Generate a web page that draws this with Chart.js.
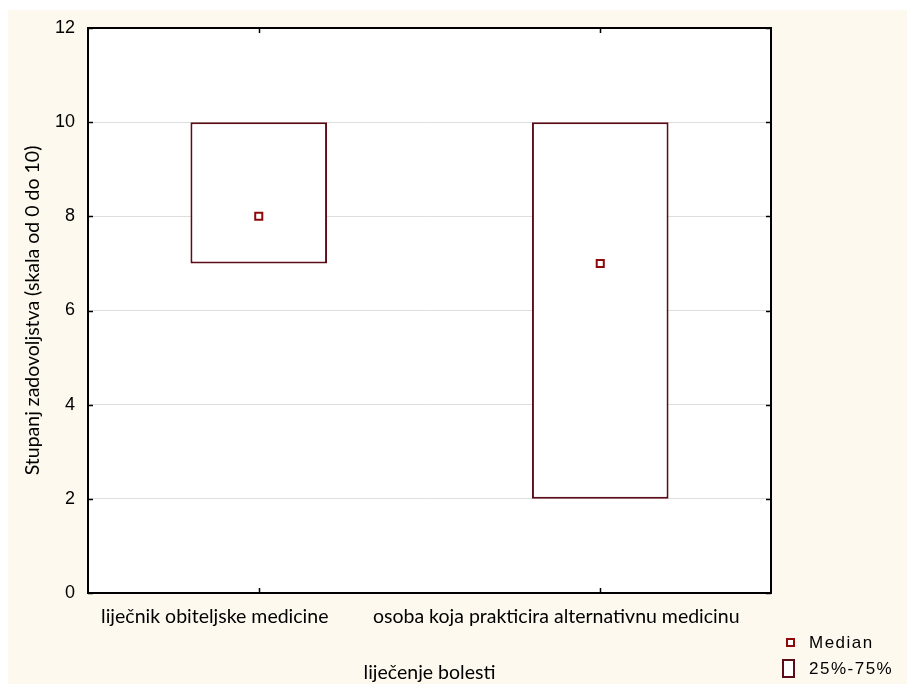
<!DOCTYPE html>
<html lang="hr">
  <head>
    <meta charset="utf-8" />
    <title>Stupanj zadovoljstva</title>
    <script src="https://cdn.jsdelivr.net/npm/chart.js@4.4.0/dist/chart.umd.min.js"></script>
  </head>
  <body>
    <div class="frame">
      <canvas id="chart" width="899" height="674"></canvas>
    </div>
  </body>

  <style>
    body{
      margin: 0;
      background: #ffffff;
    }
    .frame{
      position: absolute;
      left: 8px;
      top: 10px;
      width: 899px;
      height: 674px;
      background: #fdf9ee;
    }
  </style>

  <script>
    // data
    const categories = ["liječnik obiteljske medicine", "osoba koja prakticira alternativnu medicinu"];
    const q25 = [7, 2];
    const q75 = [10, 10];
    const medians = [8, 7];
    const yTicks = [0, 2, 4, 6, 8, 10, 12];

    const BOX_COLOR = "#5c0c16";
    const MEDIAN_COLOR = "#8e0a0a";
    const LABEL_FONT = "Lato";
    const NUM_FONT = "'Liberation Sans'";

    // white plot area
    const bgPlugin = {
      id: "plotBg",
      beforeDraw(chart) {
        const a = chart.chartArea;
        chart.ctx.save();
        chart.ctx.fillStyle = "#fff";
        chart.ctx.fillRect(a.left, a.top, a.right - a.left, a.bottom - a.top);
        chart.ctx.restore();
      }
    };

    // frame, inward tick marks and the legend
    const framePlugin = {
      id: "frame",
      afterDatasetsDraw(chart) {
        const ctx = chart.ctx;
        const a = chart.chartArea;
        const y = chart.scales.y;
        const x = chart.scales.x;
        ctx.save();
        ctx.strokeStyle = "#000";
        ctx.lineWidth = 2;
        ctx.strokeRect(a.left, a.top, a.right - a.left, a.bottom - a.top);
        ctx.lineWidth = 1.5;
        ctx.beginPath();
        yTicks.forEach(v => {
          const py = Math.round(y.getPixelForValue(v)) + 0.5;
          ctx.moveTo(a.left, py); ctx.lineTo(a.left + 5, py);
          ctx.moveTo(a.right, py); ctx.lineTo(a.right - 5, py);
        });
        categories.forEach((c, i) => {
          const px = Math.round(x.getPixelForValue(i)) + 0.5;
          ctx.moveTo(px, a.bottom); ctx.lineTo(px, a.bottom - 5);
          ctx.moveTo(px, a.top); ctx.lineTo(px, a.top + 5);
        });
        ctx.stroke();

        // legend
        ctx.lineWidth = 2;
        ctx.strokeStyle = MEDIAN_COLOR;
        ctx.fillStyle = "#fff";
        ctx.fillRect(779, 629, 7, 7);
        ctx.strokeRect(779, 629, 7, 7);
        ctx.strokeStyle = BOX_COLOR;
        ctx.fillRect(775, 650, 11, 17);
        ctx.strokeRect(775, 650, 11, 17);
        ctx.fillStyle = "#000";
        ctx.font = "17px " + NUM_FONT;
        ctx.letterSpacing = "1.5px";
        ctx.textBaseline = "middle";
        ctx.fillText("Median", 801, 633);
        ctx.fillText("25%-75%", 801, 659);
        ctx.restore();
      }
    };

    new Chart(document.getElementById("chart"), {
      data: {
        labels: categories,
        datasets: [
          {
            type: "line",
            label: "Median",
            data: medians,
            showLine: false,
            pointStyle: "rect",
            pointRadius: 5,
            pointBorderWidth: 2,
            pointBorderColor: MEDIAN_COLOR,
            pointBackgroundColor: "#fff",
            order: 0
          },
          {
            type: "bar",
            label: "25%-75%",
            data: q25.map((v, i) => [v, q75[i]]),
            backgroundColor: "#fff",
            borderColor: BOX_COLOR,
            borderWidth: 2,
            borderSkipped: false,
            categoryPercentage: 1,
            barPercentage: 0.4,
            order: 1
          }
        ]
      },
      options: {
        responsive: false,
        animation: false,
        devicePixelRatio: 1,
        layout: { padding: { left: 0, top: 18, right: 136, bottom: 0 } },
        plugins: {
          legend: { display: false },
          tooltip: { enabled: false }
        },
        scales: {
          x: {
            grid: { display: false, drawTicks: false },
            border: { display: false },
            ticks: { color: "#000", padding: 12, autoSkip: false, labelOffset: -44, font: { family: LABEL_FONT, size: 19.5 }, maxRotation: 0 },
            title: { display: true, text: "liječenje bolesti", color: "#000", font: { family: LABEL_FONT, size: 19.5 }, padding: { top: 5, bottom: 0 } },
            afterFit: s => { s.height = 91; s.paddingLeft = 0; s.paddingRight = 0; }
          },
          y: {
            min: 0,
            max: 12,
            afterBuildTicks: s => { s.ticks = yTicks.map(v => ({ value: v })); },
            grid: {
              drawTicks: false,
              color: c => (c.tick.value === 0 || c.tick.value === 12) ? "rgba(0,0,0,0)" : "#dedede",
              lineWidth: 1
            },
            border: { display: false },
            ticks: { color: "#000", padding: 13, font: { family: NUM_FONT, size: 18 } },
            title: { display: true, text: "Stupanj zadovoljstva (skala od 0 do 10)", color: "#000", font: { family: LABEL_FONT, size: 19.5 }, padding: { top: 13, bottom: 0 } },
            afterFit: s => { s.width = 80; s.paddingTop = 0; s.paddingBottom = 0; }
          }
        }
      },
      plugins: [bgPlugin, framePlugin]
    });
  </script>
</html>
